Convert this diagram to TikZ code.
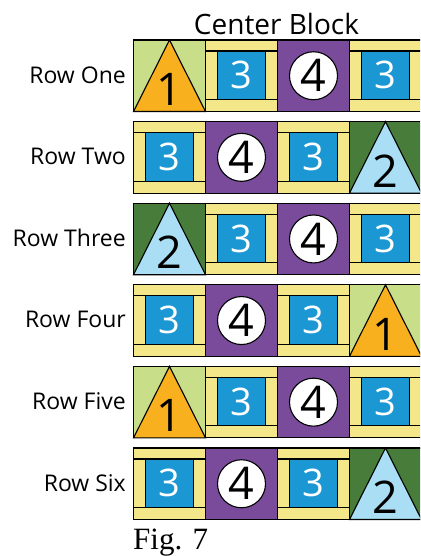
\documentclass[tikz,border=0pt]{standalone}
\usepackage{fontspec}
\setmainfont{Open Sans}
\newfontfamily\figfont{Liberation Serif}
\definecolor{qlgreen}{HTML}{C8DE88}
\definecolor{qorange}{HTML}{F8B01E}
\definecolor{qyellow}{HTML}{F4E789}
\definecolor{qblue}{HTML}{1B98D3}
\definecolor{qpurple}{HTML}{7A4A9B}
\definecolor{qdgreen}{HTML}{477C3A}
\definecolor{qlblue}{HTML}{A9DEF4}
\tikzset{
  edge/.style={draw=black,line width=1.1pt,line join=miter},
  bluesq/.style={edge,fill=qblue,text=white,inner sep=0pt,minimum width=47.4pt,minimum height=48.5pt,font=\fontsize{38}{38}\selectfont},
  whitecirc/.style={edge,circle,fill=white,inner sep=0pt,minimum size=48pt,font=\fontsize{45}{45}\selectfont},
  trinum/.style={inner sep=0pt,anchor=base,font=\fontsize{45}{45}\selectfont},
  rowlabel/.style={anchor=east,inner sep=0pt,font=\fontsize{23}{23}\selectfont},
}
\newcommand{\qthree}[3]{%
  \begin{scope}[shift={(#1,#2)}]
    \path[edge,fill=qyellow] (0,0) rectangle (72,71.5);
    \draw[edge] (0,11) -- (72,11);
    \draw[edge] (0,59.5) -- (72,59.5);
    \node[bluesq] (#3) at (36,35.25) {3};
  \end{scope}}
\newcommand{\qfour}[3]{%
  \begin{scope}[shift={(#1,#2)}]
    \path[edge,fill=qpurple] (0,0) rectangle (72,71.5);
    \node[whitecirc] (#3) at (36,35.75) {4};
  \end{scope}}
\newcommand{\qtri}[6]{% x y name bg fg number
  \begin{scope}[shift={(#1,#2)}]
    \path[edge,fill=#4] (0,0) rectangle (72,71.5);
    \path[edge,fill=#5] (0,71.5) -- (36,0) -- (72,71.5) -- cycle;
    \node[trinum] (#3) at (36,65.5) {#6};
  \end{scope}}
\begin{document}
\begin{tikzpicture}[x=1pt,y=-1pt]
\useasboundingbox (0,0) rectangle (420,556);
\clip (0,0) rectangle (420,556);
\node[anchor=base,inner sep=0pt,font=\fontsize{28}{28}\selectfont] (title) at (276.5,35) {Center Block};
% Row one
\node[rowlabel] (l1) at (126,75.75) {Row One};
\qtri{133.5}{40}{n11}{qlgreen}{qorange}{1}
\qthree{205.5}{40}{n12}
\qfour{277.5}{40}{n13}
\qthree{349.5}{40}{n14}
% Row two
\node[rowlabel] (l2) at (126,156.35) {Row Two};
\qthree{133.5}{121.6}{n21}
\qfour{205.5}{121.6}{n22}
\qthree{277.5}{121.6}{n23}
\qtri{349.5}{121.6}{n24}{qdgreen}{qlblue}{2}
% Row three
\node[rowlabel] (l3) at (126,237.95) {Row Three};
\qtri{133.5}{203.2}{n31}{qdgreen}{qlblue}{2}
\qthree{205.5}{203.2}{n32}
\qfour{277.5}{203.2}{n33}
\qthree{349.5}{203.2}{n34}
% Row four
\node[rowlabel] (l4) at (126,319.55) {Row Four};
\qthree{133.5}{284.8}{n41}
\qfour{205.5}{284.8}{n42}
\qthree{277.5}{284.8}{n43}
\qtri{349.5}{284.8}{n44}{qlgreen}{qorange}{1}
% Row five
\node[rowlabel] (l5) at (126,401.15) {Row Five};
\qtri{133.5}{366.4}{n51}{qlgreen}{qorange}{1}
\qthree{205.5}{366.4}{n52}
\qfour{277.5}{366.4}{n53}
\qthree{349.5}{366.4}{n54}
% Row six
\node[rowlabel] (l6) at (126,482.75) {Row Six};
\qthree{133.5}{448}{n61}
\qfour{205.5}{448}{n62}
\qthree{277.5}{448}{n63}
\qtri{349.5}{448}{n64}{qdgreen}{qlblue}{2}
\node[anchor=base west,inner sep=0pt,font=\figfont\fontsize{31}{31}\selectfont] (fig) at (133,549) {Fig. 7};
\end{tikzpicture}
\end{document}
